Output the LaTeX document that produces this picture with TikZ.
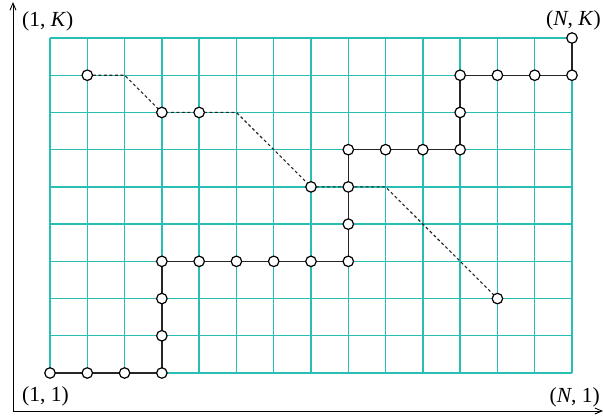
\documentclass[tikz,border=0pt]{standalone}
\usepackage{fontspec}
\setmainfont{Liberation Serif}
\usetikzlibrary{arrows.meta}
\definecolor{gridcol}{RGB}{40,190,180}
\tikzset{
  gridline/.style={draw=gridcol, line width=1.3pt},
  pt/.style={circle, draw=black, fill=white, line width=1.2pt, inner sep=0pt, minimum size=10.5pt},
  pathline/.style={draw=black!85, line width=1.4pt},
  dashline/.style={draw=black!85, line width=1.1pt, dash pattern=on 3pt off 2.5pt},
  axis/.style={draw=black, line width=0.9pt, -{Straight Barb[length=7pt,width=6pt]}},
  lab/.style={font=\fontsize{21.5}{24}\selectfont, inner sep=0pt}
}
\begin{document}
\begin{tikzpicture}[x=1pt,y=-1pt]
\useasboundingbox (0,0) rectangle (603,416);
\def\dx{37.2857}
\def\dy{37.2222}
% grid
\foreach \i in {0,...,14} {
  \draw[gridline] (50+\i*\dx,38) -- (50+\i*\dx,373);
}
\foreach \j in {0,...,9} {
  \draw[gridline] (50,38+\j*\dy) -- (572,38+\j*\dy);
}
% grid coordinates c<i>-<j>, i=1..15 from left, j=1..10 from bottom
\foreach \i in {1,...,15} {
  \foreach \j in {1,...,10} {
    \coordinate (c\i-\j) at ({50+(\i-1)*\dx},{373-(\j-1)*\dy});
  }
}
% axes
\coordinate (o) at (13,411);
\coordinate (ytop) at (13,2);
\coordinate (xend) at (603,411);
\draw[axis] (o) -- (ytop);
\draw[axis] (o) -- (xend);
% dashed path
\draw[dashline] (c2-9) -- (c3-9) -- (c4-8) -- (c5-8) -- (c6-8) -- (c8-6) -- (c9-6) -- (c10-6) -- (c13-3);
% solid path
\draw[pathline] (c1-1) -- (c4-1) -- (c4-4) -- (c9-4) -- (c9-7) -- (c12-7) -- (c12-9) -- (c15-9) -- (c15-10);
% nodes on solid path
\foreach \p in {1-1,2-1,3-1,4-1,4-2,4-3,4-4,5-4,6-4,7-4,8-4,9-4,9-5,9-6,9-7,10-7,11-7,12-7,12-8,12-9,13-9,14-9,15-9,15-10} {
  \node[pt] (n\p) at (c\p) {};
}
% nodes on dashed path
\foreach \p in {2-9,4-8,5-8,8-6,13-3} {
  \node[pt] (n\p) at (c\p) {};
}
% labels
\node[lab, anchor=west] (l1K) at (22,21) {(1, \textit{K})};
\node[lab, anchor=east] (lNK) at (601,20) {(\textit{N}, \textit{K})};
\node[lab, anchor=west] (l11) at (22,396) {(1, 1)};
\node[lab, anchor=east] (lN1) at (600,397) {(\textit{N}, 1)};
\end{tikzpicture}
\end{document}
